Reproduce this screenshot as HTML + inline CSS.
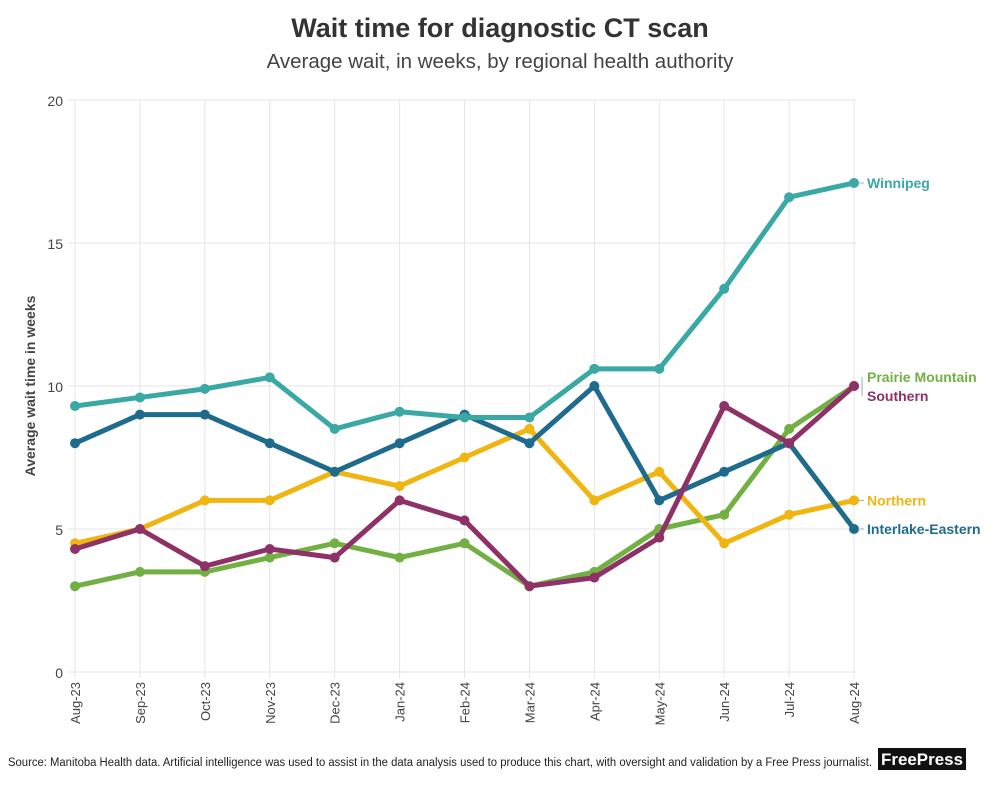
<!DOCTYPE html>
<html><head><meta charset="utf-8"><style>
body{margin:0;background:#fff;width:1000px;height:781px;overflow:hidden;font-family:"Liberation Sans",sans-serif}
</style></head><body>
<svg id="s" width="1000" height="781" xmlns="http://www.w3.org/2000/svg" font-family="Liberation Sans, sans-serif">
<text x="500" y="37" text-anchor="middle" font-size="27" font-weight="bold" fill="#333">Wait time for diagnostic CT scan</text>
<text x="500" y="68" text-anchor="middle" font-size="20.5" fill="#444">Average wait, in weeks, by regional health authority</text>
<text transform="translate(35,386) rotate(-90)" text-anchor="middle" font-size="14" font-weight="bold" fill="#444">Average wait time in weeks</text>
<text x="8" y="766" font-size="11.5" fill="#222" textLength="864" lengthAdjust="spacingAndGlyphs">Source: Manitoba Health data. Artificial intelligence was used to assist in the data analysis used to produce this chart, with oversight and validation by a Free Press journalist.</text>
<rect x="878" y="748" width="88" height="22" fill="#111"/>
<text x="922" y="765" text-anchor="middle" font-size="17" font-weight="bold" fill="#fff" textLength="82" lengthAdjust="spacingAndGlyphs">FreePress</text>
<g id="g"></g>
</svg>
<script>
const g=document.getElementById('g');
const X=i=>75+i*64.92, Y=v=>672-v*28.6;
let h='';
for(let v=0;v<=20;v+=5){h+=`<line x1="68" x2="856" y1="${Y(v)}" y2="${Y(v)}" stroke="#e6e6e6"/>`;h+=`<text x="63" y="${Y(v)+6}" text-anchor="end" font-size="14" fill="#444">${v}</text>`;}
const m=['Aug-23','Sep-23','Oct-23','Nov-23','Dec-23','Jan-24','Feb-24','Mar-24','Apr-24','May-24','Jun-24','Jul-24','Aug-24'];
m.forEach((t,i)=>{h+=`<line x1="${X(i)}" x2="${X(i)}" y1="100" y2="678" stroke="#e6e6e6"/>`;h+=`<text transform="translate(${X(i)+5},682) rotate(-90)" text-anchor="end" font-size="13" fill="#444">${t}</text>`;});
const S=[
['#72b043',[3,3.5,3.5,4,4.5,4,4.5,3,3.5,5,5.5,8.5,10]],
['#f0b511',[4.5,5,6,6,7,6.5,7.5,8.5,6,7,4.5,5.5,6]],
['#1f6b8e',[8,9,9,8,7,8,9,8,10,6,7,8,5]],
['#8e3167',[4.3,5,3.7,4.3,4,6,5.3,3,3.3,4.7,9.3,8,10]],
['#3aa8a4',[9.3,9.6,9.9,10.3,8.5,9.1,8.9,8.9,10.6,10.6,13.4,16.6,17.1]]];
S.forEach(([c,d])=>{h+=`<polyline fill="none" stroke="${c}" stroke-width="5" stroke-linejoin="round" points="${d.map((v,i)=>X(i)+','+Y(v)).join(' ')}"/>`;d.forEach((v,i)=>h+=`<circle cx="${X(i)}" cy="${Y(v)}" r="5" fill="${c}"/>`);});
const L=[['Winnipeg','#3aa8a4',Y(17.1)],['Prairie Mountain','#72b043',377],['Southern','#8e3167',396],['Northern','#f0b511',Y(6)],['Interlake-Eastern','#1f6b8e',Y(5)]];
L.forEach(([t,c,y])=>{h+=`<text x="867" y="${y+5}" font-size="14" font-weight="bold" fill="${c}">${t}</text>`;});
h+=`<line x1="858" x2="864" y1="${Y(17.1)}" y2="${Y(17.1)}" stroke="#aaa"/><line x1="858" x2="864" y1="${Y(6)}" y2="${Y(6)}" stroke="#aaa"/><line x1="858" x2="864" y1="${Y(5)}" y2="${Y(5)}" stroke="#aaa"/><line x1="862" x2="862" y1="377" y2="396" stroke="#aaa"/>`;
g.innerHTML=h;
</script>
</body></html>
